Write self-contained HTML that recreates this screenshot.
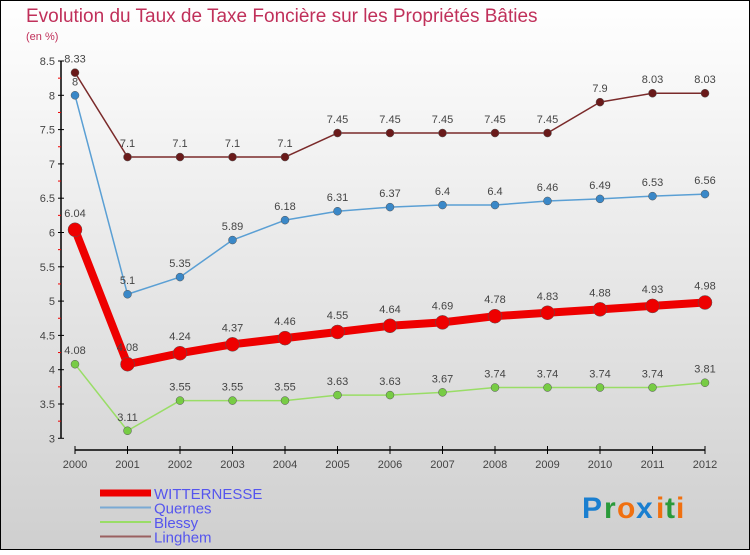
<!DOCTYPE html>
<html><head><meta charset="utf-8"><style>
body{margin:0;width:750px;height:550px;overflow:hidden;font-family:"Liberation Sans",sans-serif}
svg text{font-family:"Liberation Sans",sans-serif}
</style></head><body>
<svg id="chart" width="750" height="550" xmlns="http://www.w3.org/2000/svg">
<defs><linearGradient id="bg" x1="0" y1="0" x2="0" y2="1"><stop offset="0" stop-color="#ffffff"/><stop offset="1" stop-color="#cfcfcf"/></linearGradient></defs>
<rect x="0.5" y="0.5" width="749" height="549" fill="url(#bg)" stroke="#000"/>
<text x="26" y="22" font-size="19" fill="#c0305a">Evolution du Taux de Taxe Foncière sur les Propriétés Bâties</text>
<text x="26" y="40" font-size="11" fill="#c0305a">(en %)</text>
<g id="axes"></g>
<g id="series"></g>
<g id="legend"></g>
<g font-size="30" font-weight="bold" font-family="Liberation Sans">
<text x="582" y="518" fill="#1a7fd0">P</text><text x="604" y="518" fill="#2a9a3a">r</text><text x="617" y="518" fill="#f07010">o</text><text x="636" y="518" fill="#1a7fd0">x</text><text x="656" y="518" fill="#f07010">i</text><text x="665" y="518" fill="#2a9a3a">t</text><text x="676" y="518" fill="#f07010">i</text>
</g>
</svg>
<script>
const years=[2000,2001,2002,2003,2004,2005,2006,2007,2008,2009,2010,2011,2012];
const witternesse=[6.04,4.08,4.24,4.37,4.46,4.55,4.64,4.69,4.78,4.83,4.88,4.93,4.98];
const quernes=[8,5.1,5.35,5.89,6.18,6.31,6.37,6.4,6.4,6.46,6.49,6.53,6.56];
const blessy=[4.08,3.11,3.55,3.55,3.55,3.63,3.63,3.67,3.74,3.74,3.74,3.74,3.81];
const linghem=[8.33,7.1,7.1,7.1,7.1,7.45,7.45,7.45,7.45,7.45,7.9,8.03,8.03];
const yTicks=[3,3.5,4,4.5,5,5.5,6,6.5,7,7.5,8,8.5];
const NS="http://www.w3.org/2000/svg";
const x=i=>75+i*52.5;
const y=v=>61+(8.5-v)*68.6;
function mk(t,a,p){const e=document.createElementNS(NS,t);for(const k in a)e.setAttribute(k,a[k]);p.appendChild(e);return e;}
const ax=document.getElementById('axes');
let l=mk('line',{x1:61,y1:y(8.5),x2:61,y2:y(3),stroke:'#000','stroke-width':1.5},ax);


yTicks.forEach(v=>{
 mk('line',{x1:58,x2:64,y1:y(v),y2:y(v),stroke:'#000'},ax);
 if(v<8.5)mk('line',{x1:58,x2:61,y1:y(v+0.25),y2:y(v+0.25),stroke:'#e00'},ax);
 const t=mk('text',{x:55,y:y(v)+4,'text-anchor':'end','font-size':11,fill:'#444'},ax);
 
 
 t.textContent=v;
});
l=mk('line',{x1:75,y1:450,x2:705,y2:450,stroke:'#000','stroke-width':1.5},ax);


years.forEach((yr,i)=>{
 mk('line',{x1:x(i),x2:x(i),y1:446,y2:454,stroke:'#000'},ax);
 const t=mk('text',{x:x(i),y:468,'text-anchor':'middle','font-size':11,fill:'#444'},ax);
 
 
 t.textContent=yr;
});
const sg=document.getElementById('series');
const series=[
 {name:'linghem',d:linghem,c:'#7a2a2a',f:'#6a1a1a',w:1.5,r:4},
 {name:'quernes',d:quernes,c:'#5a9fd4',f:'#3a88c8',w:1.5,r:4},
 {name:'blessy',d:blessy,c:'#99dd66',f:'#77cc44',w:1.5,r:4},
 {name:'witternesse',d:witternesse,c:'#ee0000',f:'#ee0000',w:8,r:7}
];
series.forEach(s=>{
 const g=mk('g',{},sg);
 
 
 const p=mk('polyline',{points:s.d.map((v,i)=>x(i)+','+y(v)).join(' '),fill:'none',stroke:s.c,'stroke-width':s.w,'stroke-linejoin':'round'},g);
 
 
 s.d.forEach((v,i)=>{
  const c=mk('circle',{cx:x(i),cy:y(v),r:s.r,fill:s.f,stroke:'#555','stroke-width':0.5},g);
  
  
  const t=mk('text',{x:x(i),y:y(v)-(s.r+6),'text-anchor':'middle','font-size':11,fill:'#444'},g);
  
  
  t.textContent=v;
 });
});
const lg=document.getElementById('legend');
const leg=[['WITTERNESSE','#ee0000',7],['Quernes','#7aaad4',2],['Blessy','#99dd66',2],['Linghem','#9a6060',2]];
leg.forEach((e,i)=>{
 const yy=493+i*14.5;
 const g=mk('g',{},lg);
 
 
 mk('line',{x1:100,x2:151,y1:yy,y2:yy,stroke:e[1],'stroke-width':e[2]},g);
 const t=mk('text',{x:154,y:yy+6,'font-size':15,fill:'#5555ee'},g);
 t.textContent=e[0];
});
</script>
</body></html>
